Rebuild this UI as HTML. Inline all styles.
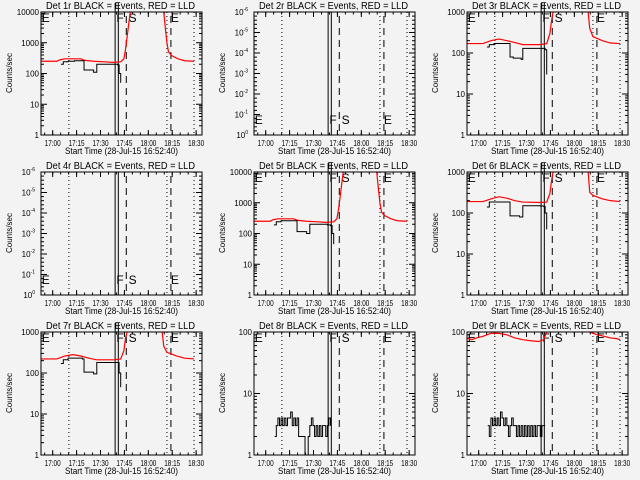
<!DOCTYPE html>
<html><head><meta charset="utf-8">
<style>
html,body{margin:0;padding:0;background:#f3f3f3;}
svg{display:block;font-family:"Liberation Sans",sans-serif;}
</style></head>
<body>
<svg id="chart" width="640" height="480" viewBox="0 0 640 480" xmlns="http://www.w3.org/2000/svg">
<rect x="0" y="0" width="640" height="480" fill="#f3f3f3"/>
</svg>
<script>
// time in minutes since 16:52:40; axis spans 0..101
const xTickLabels = ["17:00","17:15","17:30","17:45","18:00","18:15","18:30"];
const xTickMinutes = [7.33,22.33,37.33,52.33,67.33,82.33,97.33];
const dottedTimes = [17.5, 79, 96];
const solidTimes = [46.5, 48.5];
const dashedTimes = [53.5, 81.5];
const markerLabels = ["E","F","S","E"];
const markerTimes = [0.5, 47.3, 55, 81.5];
const panelTitles = ["Det 1r","Det 2r","Det 3r","Det 4r","Det 5r","Det 6r","Det 7r","Det 8r","Det 9r"];
const panelDecades = [4,0,3,0,4,3,3,2,2];

// red (LLD) series per panel
const red1T = [0,10,12,15,25,27,33,40,45,50,52,53,54,55,56,60,76,77,78,79,80,82,86,90,96];
const red1V = [250,250,280,300,300,270,250,240,230,240,300,600,1500,4000,10000,30000,30000,10000,3000,1000,500,380,300,260,250];
const red3T = [0,10,15,20,25,30,35,46,50,52,53,54,55,60,75,76,77,79,85,90,96];
const red3V = [170,170,200,220,200,180,160,160,170,300,600,1000,3000,3000,3000,1000,400,250,200,175,170];
const red5T = [0,10,12,15,25,27,33,40,45,50,52,53,54,55,56,60,76,77,78,79,80,82,86,90,96];
const red5V = [250,250,280,300,300,270,250,240,230,240,300,600,1500,4000,10000,30000,30000,10000,3000,1000,500,380,300,260,250];
const red6T = [0,10,15,20,25,30,35,46,50,52,53,54,55,60,75,76,77,79,85,90,96];
const red6V = [190,190,220,250,230,200,185,180,185,300,600,1000,3000,3000,3000,1000,320,270,220,200,190];
const red7T = [0,10,15,20,25,30,35,46,50,52,53,54,55,60,75,76,77,79,85,90,96];
const red7V = [220,220,260,280,260,230,210,210,220,350,700,1000,3000,3000,3000,1000,450,320,260,230,220];
const red9T = [0,3,6,10,15,20,25,30,35,40,45,48,50,51,60,76,77,79,82,86,90,94,96];
const red9V = [80,75,80,85,95,95,90,80,75,72,70,75,100,300,300,300,100,95,90,85,80,78,75];

// black (events) series per panel
const blk1T = [12.5,14,17,21,26,27,33,35,46,48,49,50];
const blk1V = [200,240,250,260,260,130,110,200,200,190,100,50];
const blk3T = [12.5,14,17,26,27,29,34,35,46,49,50];
const blk3V = [140,160,170,170,80,75,70,130,130,120,30];
const blk5T = [12.5,14,17,26,27,33,35,46,48,49,50];
const blk5V = [190,240,260,260,115,100,200,190,180,100,45];
const blk6T = [12.5,14,17,26,27,33,35,46,48,49,50];
const blk6V = [140,185,185,185,85,80,150,148,145,100,40];
const blk7T = [12.5,14,17,26,27,33,35,46,48,49,50];
const blk7V = [170,210,230,220,105,95,180,180,180,100,45];
const blk8V = [2,3,4,3,4,3,4,3,4,4,5,3,4,3,4,2,2,2,2,1,1,2,3,4,3,2,3,2,3,2,3,3,2,3,4,3];
const blk9V = [3,2,4,3,4,3,4,3,5,4,3,4,3,2,3,4,3,3,2,3,2,3,2,3,2,3,2,3,2,3,2,3,3,2,3,3,3];

const NS="http://www.w3.org/2000/svg";
const svg=document.getElementById('chart');
function mk(tag,attrs,parent){const e=document.createElementNS(NS,tag);for(const k in attrs)e.setAttribute(k,attrs[k]);(parent||svg).appendChild(e);return e;}

const L=41,R=202,T=12,B=135;
function xs(ox,t){return ox+L+t/101*(R-L);}
function ys(oy,v,dec){if(dec===0)return oy+B;const lv=Math.log10(Math.max(v,1e-3));return oy+B-lv/dec*(B-T);}

const redSeries=[[red1T,red1V],null,[red3T,red3V],null,[red5T,red5V],[red6T,red6V],[red7T,red7V],null,[red9T,red9V]];
const blkSeries=[[blk1T,blk1V],null,[blk3T,blk3V],null,[blk5T,blk5V],[blk6T,blk6V],[blk7T,blk7V],null,null];

for(let p=0;p<9;p++){
  const ox=(p%3)*213, oy=Math.floor(p/3)*160, dec=panelDecades[p];
  const g=mk('g',{});
  
  
  const cid='clip'+p;
  const cp=mk('clipPath',{id:cid},g);
  mk('rect',{x:ox+L,y:oy+T,width:R-L,height:B-T},cp);

  const title=mk('text',{x:ox+46,y:oy+9,'font-size':'10',textLength:'149',lengthAdjust:'spacingAndGlyphs'},g);
  title.textContent=panelTitles[p]+" BLACK = Events, RED = LLD";
  
  

  xTickMinutes.forEach((m,i)=>{
    const x=xs(ox,m);
    mk('line',{x1:x,y1:oy+B,x2:x,y2:oy+B-5,stroke:'#000'},g);
    mk('line',{x1:x,y1:oy+T,x2:x,y2:oy+T+5,stroke:'#000'},g);
    const tl=mk('text',{x:x-8,y:oy+146,'font-size':'8',textLength:'16',lengthAdjust:'spacingAndGlyphs'},g);
    tl.textContent=xTickLabels[i];
    
    
  });
  for(let m=2.33;m<101;m+=5){const x=xs(ox,m);
    mk('line',{x1:x,y1:oy+B,x2:x,y2:oy+B-2.5,stroke:'#000'},g);
    mk('line',{x1:x,y1:oy+T,x2:x,y2:oy+T+2.5,stroke:'#000'},g);}
  const xt=mk('text',{x:ox+65,y:oy+154,'font-size':'9',textLength:'113',lengthAdjust:'spacingAndGlyphs'},g);
  xt.textContent="Start Time (28-Jul-15 16:52:40)";
  
  
  const yt=mk('text',{x:0,y:0,'text-anchor':'middle','font-size':'8',transform:`translate(${ox+12},${oy+73}) rotate(-90)`},g);
  yt.textContent="Counts/sec";
  
  

  if(dec>0){
    for(let d=0;d<=dec;d++){
      const y=ys(oy,Math.pow(10,d),dec);
      mk('line',{x1:ox+L,y1:y,x2:ox+L+6,y2:y,stroke:'#000'},g);
      mk('line',{x1:ox+R,y1:y,x2:ox+R-6,y2:y,stroke:'#000'},g);
      const lab=mk('text',{x:ox+L-2,y:y+3,'text-anchor':'end','font-size':'8'},g);
      lab.textContent=String(Math.pow(10,d));
      
      
      if(d<dec)for(let k=2;k<10;k++){const yy=ys(oy,k*Math.pow(10,d),dec);
        mk('line',{x1:ox+L,y1:yy,x2:ox+L+3,y2:yy,stroke:'#000'},g);
        mk('line',{x1:ox+R,y1:yy,x2:ox+R-3,y2:yy,stroke:'#000'},g);}
    }
  } else {
    for(let i=0;i<=6;i++){
      const y=oy+T+i*(B-T)/6;
      mk('line',{x1:ox+L,y1:y,x2:ox+L+6,y2:y,stroke:'#000'},g);
      mk('line',{x1:ox+R,y1:y,x2:ox+R-6,y2:y,stroke:'#000'},g);
      for(let k=1;k<5;k++){const yy=y+k*(B-T)/30; if(i<6){
        mk('line',{x1:ox+L,y1:yy,x2:ox+L+3,y2:yy,stroke:'#000'},g);
        mk('line',{x1:ox+R,y1:yy,x2:ox+R-3,y2:yy,stroke:'#000'},g);}}
      const lab=mk('text',{x:ox+L-6,y:y+3,'text-anchor':'end','font-size':'8'},g);
      lab.textContent="10";
      const sp=mk('tspan',{dy:'-4','font-size':'5'},lab);
      sp.textContent=(i===6?"0":"-"+(6-i));
      
      
    }
  }

  dottedTimes.forEach(t=>{const x=xs(ox,t);mk('line',{x1:x,y1:oy+T,x2:x,y2:oy+B,stroke:'#000','stroke-dasharray':'1,3'},g);});
  dashedTimes.forEach(t=>{const x=xs(ox,t);mk('line',{x1:x,y1:oy+T+4,x2:x,y2:oy+B,stroke:'#000','stroke-dasharray':'7,5'},g);});
  solidTimes.forEach(t=>{const x=xs(ox,t);mk('line',{x1:x,y1:oy+(dec>0&&dec!==2?3:T),x2:x,y2:oy+B,stroke:'#000'},g);});

  const my=(dec===0)?oy+124:oy+22;
  markerTimes.forEach((t,i)=>{
    const m=mk('text',{x:xs(ox,t),y:my,'font-size':'12'},g);
    m.textContent=markerLabels[i];
    
    
  });

  const rs=redSeries[p];
  if(rs){
    const pts=rs[0].map((t,i)=>xs(ox,t)+','+ys(oy,rs[1][i],dec)).join(' ');
    const pl=mk('polyline',{points:pts,fill:'none',stroke:'#ff0000','stroke-width':'1.2','clip-path':`url(#${cid})`},g);
    
    
  }
  let bt=null,bv=null;
  if(blkSeries[p]){bt=blkSeries[p][0];bv=blkSeries[p][1];}
  if(p===7){bv=blk8V;bt=blk8V.map((_,i)=>13+i);}
  if(p===8){bv=blk9V;bt=blk9V.map((_,i)=>13+i);}
  if(bt){
    let pts=[];
    bt.forEach((t,i)=>{const x=xs(ox,t),y=ys(oy,bv[i],dec);
      if(i>0)pts.push(x+','+ys(oy,bv[i-1],dec));
      pts.push(x+','+y);});
    const pl=mk('polyline',{points:pts.join(' '),fill:'none',stroke:'#000','stroke-width':'1','clip-path':`url(#${cid})`},g);
    
    
  }

  const fr=mk('rect',{x:ox+L,y:oy+T,width:R-L,height:B-T,fill:'none',stroke:'#000','stroke-width':'1'},g);
  
  
}
</script>
</body></html>
